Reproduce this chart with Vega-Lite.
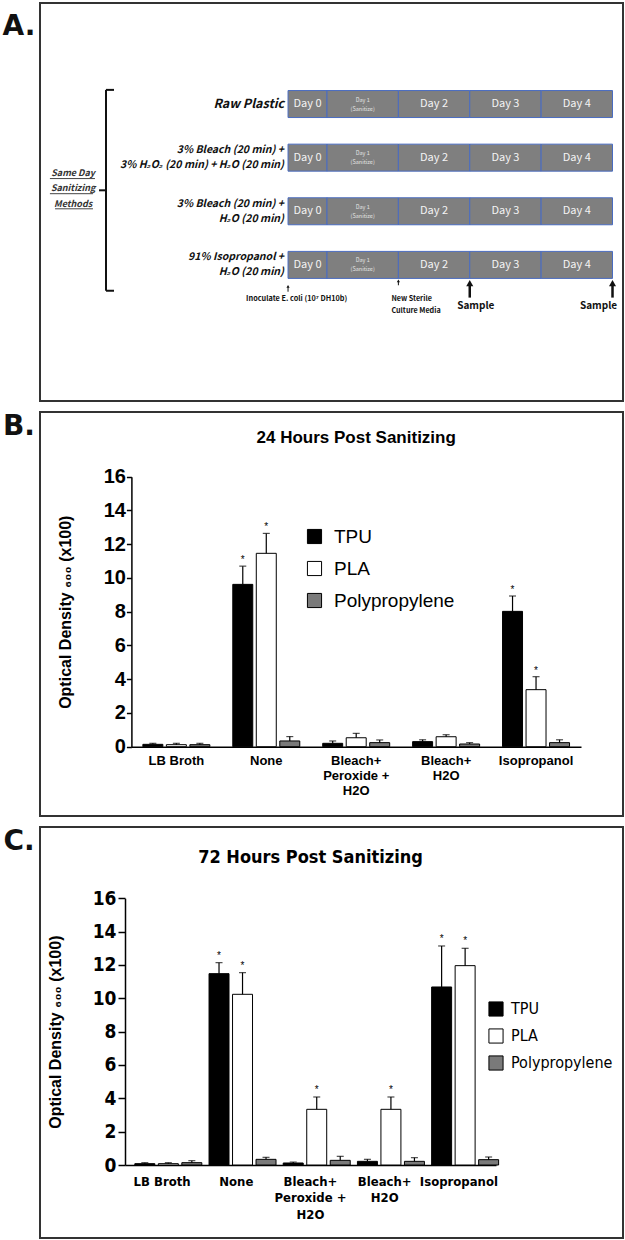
{
  "$schema": "https://vega.github.io/schema/vega-lite/v6.json",
  "padding": {"left": 2, "top": 2, "right": 0, "bottom": 0},
  "spacing": 9,
  "resolve": {"scale": {"fill": "independent"}, "legend": {"fill": "independent"}},
  "config": {
    "view": {"stroke": "#333333", "strokeWidth": 2},
    "font": "Liberation Sans",
    "text": {"color": "black"}
  },
  "datasets": {
    "cells": [
      {"row": 1, "day": 0, "label": "Day 0", "start": 0.454, "end": 1},
      {"row": 1, "day": 1, "label": "Day 1\n(Sanitize)", "start": 1, "end": 2},
      {"row": 1, "day": 2, "label": "Day 2", "start": 2, "end": 3},
      {"row": 1, "day": 3, "label": "Day 3", "start": 3, "end": 4},
      {"row": 1, "day": 4, "label": "Day 4", "start": 4, "end": 5},
      {"row": 2, "day": 0, "label": "Day 0", "start": 0.454, "end": 1},
      {"row": 2, "day": 1, "label": "Day 1\n(Sanitize)", "start": 1, "end": 2},
      {"row": 2, "day": 2, "label": "Day 2", "start": 2, "end": 3},
      {"row": 2, "day": 3, "label": "Day 3", "start": 3, "end": 4},
      {"row": 2, "day": 4, "label": "Day 4", "start": 4, "end": 5},
      {"row": 3, "day": 0, "label": "Day 0", "start": 0.454, "end": 1},
      {"row": 3, "day": 1, "label": "Day 1\n(Sanitize)", "start": 1, "end": 2},
      {"row": 3, "day": 2, "label": "Day 2", "start": 2, "end": 3},
      {"row": 3, "day": 3, "label": "Day 3", "start": 3, "end": 4},
      {"row": 3, "day": 4, "label": "Day 4", "start": 4, "end": 5},
      {"row": 4, "day": 0, "label": "Day 0", "start": 0.454, "end": 1},
      {"row": 4, "day": 1, "label": "Day 1\n(Sanitize)", "start": 1, "end": 2},
      {"row": 4, "day": 2, "label": "Day 2", "start": 2, "end": 3},
      {"row": 4, "day": 3, "label": "Day 3", "start": 3, "end": 4},
      {"row": 4, "day": 4, "label": "Day 4", "start": 4, "end": 5}
    ],
    "rows": [
      {"row": 1, "label": "Raw Plastic"},
      {"row": 2, "label": "3% Bleach (20 min) +\n3% H₂O₂ (20 min) + H₂O (20 min)"},
      {"row": 3, "label": "3% Bleach (20 min) +\nH₂O (20 min)"},
      {"row": 4, "label": "91% Isopropanol +\nH₂O (20 min)"}
    ],
    "events": [
      {"event": "inoculate", "day": 0.454, "label": "Inoculate E. coli (10⁷ DH10b)"},
      {"event": "media", "day": 2, "label": "New Sterile\nCulture Media"},
      {"event": "sample", "day": 3, "label": "Sample"},
      {"event": "sample", "day": 5, "label": "Sample"}
    ],
    "b": [
      {"cat": "LB Broth", "mat": "TPU", "value": 0.14, "upper": 0.2, "sig": false},
      {"cat": "LB Broth", "mat": "PLA", "value": 0.12, "upper": 0.2, "sig": false},
      {"cat": "LB Broth", "mat": "Polypropylene", "value": 0.12, "upper": 0.2, "sig": false},
      {"cat": "None", "mat": "TPU", "value": 9.62, "upper": 10.7, "sig": true},
      {"cat": "None", "mat": "PLA", "value": 11.46, "upper": 12.64, "sig": true},
      {"cat": "None", "mat": "Polypropylene", "value": 0.34, "upper": 0.6, "sig": false},
      {"cat": "Bleach+\nPeroxide +\nH2O", "mat": "TPU", "value": 0.2, "upper": 0.34, "sig": false},
      {"cat": "Bleach+\nPeroxide +\nH2O", "mat": "PLA", "value": 0.53, "upper": 0.79, "sig": false},
      {"cat": "Bleach+\nPeroxide +\nH2O", "mat": "Polypropylene", "value": 0.24, "upper": 0.4, "sig": false},
      {"cat": "Bleach+\nH2O", "mat": "TPU", "value": 0.3, "upper": 0.41, "sig": false},
      {"cat": "Bleach+\nH2O", "mat": "PLA", "value": 0.59, "upper": 0.71, "sig": false},
      {"cat": "Bleach+\nH2O", "mat": "Polypropylene", "value": 0.16, "upper": 0.24, "sig": false},
      {"cat": "Isopropanol", "mat": "TPU", "value": 8.02, "upper": 8.93, "sig": true},
      {"cat": "Isopropanol", "mat": "PLA", "value": 3.38, "upper": 4.15, "sig": true},
      {"cat": "Isopropanol", "mat": "Polypropylene", "value": 0.24, "upper": 0.41, "sig": false}
    ],
    "c": [
      {"cat": "LB Broth", "mat": "TPU", "value": 0.08, "upper": 0.14, "sig": false},
      {"cat": "LB Broth", "mat": "PLA", "value": 0.08, "upper": 0.14, "sig": false},
      {"cat": "LB Broth", "mat": "Polypropylene", "value": 0.14, "upper": 0.26, "sig": false},
      {"cat": "None", "mat": "TPU", "value": 11.48, "upper": 12.14, "sig": true},
      {"cat": "None", "mat": "PLA", "value": 10.24, "upper": 11.54, "sig": true},
      {"cat": "None", "mat": "Polypropylene", "value": 0.34, "upper": 0.46, "sig": false},
      {"cat": "Bleach+\nPeroxide +\nH2O", "mat": "TPU", "value": 0.12, "upper": 0.18, "sig": false},
      {"cat": "Bleach+\nPeroxide +\nH2O", "mat": "PLA", "value": 3.34, "upper": 4.08, "sig": true},
      {"cat": "Bleach+\nPeroxide +\nH2O", "mat": "Polypropylene", "value": 0.28, "upper": 0.52, "sig": false},
      {"cat": "Bleach+\nH2O", "mat": "TPU", "value": 0.22, "upper": 0.34, "sig": false},
      {"cat": "Bleach+\nH2O", "mat": "PLA", "value": 3.34, "upper": 4.08, "sig": true},
      {"cat": "Bleach+\nH2O", "mat": "Polypropylene", "value": 0.22, "upper": 0.44, "sig": false},
      {"cat": "Isopropanol", "mat": "TPU", "value": 10.68, "upper": 13.14, "sig": true},
      {"cat": "Isopropanol", "mat": "PLA", "value": 11.96, "upper": 13.0, "sig": true},
      {"cat": "Isopropanol", "mat": "Polypropylene", "value": 0.32, "upper": 0.48, "sig": false}
    ]
  },
  "vconcat": [
    {
      "spacing": 3,
      "hconcat": [
        {
          "width": 34, "height": 48,
          "view": {"stroke": null},
          "data": {"values": [{"t": "A."}]},
          "mark": {"type": "text", "font": "DejaVu Sans", "fontSize": 28, "fontWeight": "bold", "color": "#111111"},
          "encoding": {"text": {"field": "t"}}
        },
        {
          "width": 583,
          "height": 398,
          "layer": [
            {
              "data": {"name": "cells"},
              "mark": {"type": "bar", "size": 27, "fill": "#7f7f7f", "stroke": "#4a6cc0", "strokeWidth": 1},
              "encoding": {
                "x": {"field": "start", "type": "quantitative", "scale": {"domain": [-3.021, 5.147], "nice": false, "zero": false}, "axis": null},
                "x2": {"field": "end"},
                "y": {"field": "row", "type": "quantitative", "scale": {"domain": [-0.791, 6.445], "reverse": true, "nice": false, "zero": false}, "axis": null}
              }
            },
            {
              "data": {"name": "cells"},
              "transform": [{"filter": "datum.day != 1"}, {"fold": ["start", "end"], "as": ["edge", "pos"]}],
              "mark": {"type": "text", "font": "'Noto Sans CJK JP', 'Liberation Sans', sans-serif", "fontSize": 11, "color": "#f4f4f4"},
              "encoding": {
                "x": {"aggregate": "mean", "field": "pos", "type": "quantitative", "axis": null},
                "y": {"field": "row", "type": "quantitative", "axis": null},
                "text": {"field": "label"}
              }
            },
            {
              "data": {"name": "cells"},
              "transform": [{"filter": "datum.day == 1"}, {"fold": ["start", "end"], "as": ["edge", "pos"]}],
              "mark": {"type": "text", "font": "'Noto Sans CJK JP', 'Liberation Sans', sans-serif", "fontSize": 5.5, "lineBreak": "\n", "lineHeight": 9, "dy": -4.5, "color": "#e2e2e2"},
              "encoding": {
                "x": {"aggregate": "mean", "field": "pos", "type": "quantitative", "axis": null},
                "y": {"field": "row", "type": "quantitative", "axis": null},
                "text": {"field": "label"}
              }
            },
            {
              "data": {"name": "rows"},
              "transform": [{"filter": "datum.row == 1"}],
              "mark": {"type": "text", "align": "right", "baseline": "middle", "font": "'Noto Sans CJK JP', 'Liberation Sans', sans-serif", "fontStyle": "italic", "fontWeight": "bold", "fontSize": 12.5, "color": "#111111"},
              "encoding": {
                "x": {"datum": 0.398, "type": "quantitative", "axis": null},
                "y": {"field": "row", "type": "quantitative", "axis": null},
                "text": {"field": "label"}
              }
            },
            {
              "data": {"name": "rows"},
              "transform": [{"filter": "datum.row > 1"}],
              "mark": {"type": "text", "align": "right", "baseline": "middle", "font": "'Noto Sans CJK JP', 'Liberation Sans', sans-serif", "fontStyle": "italic", "fontWeight": "bold", "fontSize": 10.5, "lineBreak": "\n", "lineHeight": 15, "dy": -7.5, "color": "#111111"},
              "encoding": {
                "x": {"datum": 0.398, "type": "quantitative", "axis": null},
                "y": {"field": "row", "type": "quantitative", "axis": null},
                "text": {"field": "label"}
              }
            },
            {
              "data": {"values": [{}]},
              "mark": {"type": "rule", "color": "#111111", "strokeWidth": 2},
              "encoding": {
                "x": {"datum": -2.096, "type": "quantitative", "axis": null},
                "y": {"datum": 0.736, "type": "quantitative", "axis": null},
                "y2": {"datum": 4.482}
              }
            },
            {
              "data": {"values": [{}]},
              "mark": {"type": "rule", "color": "#111111", "strokeWidth": 2},
              "encoding": {
                "x": {"datum": -2.096, "type": "quantitative", "axis": null},
                "x2": {"datum": -1.984},
                "y": {"datum": 0.736, "type": "quantitative", "axis": null}
              }
            },
            {
              "data": {"values": [{}]},
              "mark": {"type": "rule", "color": "#111111", "strokeWidth": 2},
              "encoding": {
                "x": {"datum": -2.096, "type": "quantitative", "axis": null},
                "x2": {"datum": -1.984},
                "y": {"datum": 4.482, "type": "quantitative", "axis": null}
              }
            },
            {
              "data": {"values": [{}]},
              "mark": {"type": "rule", "color": "#111111", "strokeWidth": 2},
              "encoding": {
                "x": {"datum": -2.194, "type": "quantitative", "axis": null},
                "x2": {"datum": -2.096},
                "y": {"datum": 2.609, "type": "quantitative", "axis": null}
              }
            },
            {
              "data": {"values": [{"t": "Same Day\nSanitizing\nMethods"}]},
              "mark": {"type": "text", "align": "center", "font": "'Noto Sans CJK JP', 'Liberation Sans', sans-serif", "fontStyle": "italic", "fontWeight": "bold", "fontSize": 9, "lineBreak": "\n", "lineHeight": 15.5, "color": "#333333"},
              "encoding": {
                "x": {"datum": -2.557, "type": "quantitative", "axis": null},
                "y": {"datum": 2.282, "type": "quantitative", "axis": null},
                "text": {"field": "t"}
              }
            },
            {
              "data": {"values": [{}]},
              "mark": {"type": "rule", "color": "#444444", "strokeWidth": 1},
              "encoding": {
                "x": {"datum": -2.882, "type": "quantitative", "axis": null},
                "x2": {"datum": -2.251},
                "y": {"datum": 2.39, "type": "quantitative", "axis": null}
              }
            },
            {
              "data": {"values": [{}]},
              "mark": {"type": "rule", "color": "#444444", "strokeWidth": 1},
              "encoding": {
                "x": {"datum": -2.882, "type": "quantitative", "axis": null},
                "x2": {"datum": -2.279},
                "y": {"datum": 2.672, "type": "quantitative", "axis": null}
              }
            },
            {
              "data": {"values": [{}]},
              "mark": {"type": "rule", "color": "#444444", "strokeWidth": 1},
              "encoding": {
                "x": {"datum": -2.81, "type": "quantitative", "axis": null},
                "x2": {"datum": -2.279},
                "y": {"datum": 2.954, "type": "quantitative", "axis": null}
              }
            },
            {
              "data": {"name": "events"},
              "transform": [{"filter": "datum.event == 'sample'"}],
              "mark": {"type": "rule", "color": "#111111", "strokeWidth": 2.5},
              "encoding": {
                "x": {"field": "day", "type": "quantitative", "axis": null},
                "y": {"datum": 4.36, "type": "quantitative", "axis": null},
                "y2": {"datum": 4.61}
              }
            },
            {
              "data": {"name": "events"},
              "transform": [{"filter": "datum.event == 'sample'"}],
              "mark": {"type": "point", "shape": "triangle-up", "filled": true, "color": "#111111", "size": 50, "opacity": 1},
              "encoding": {
                "x": {"field": "day", "type": "quantitative", "axis": null},
                "y": {"datum": 4.34, "type": "quantitative", "axis": null}
              }
            },
            {
              "data": {"name": "events"},
              "transform": [{"filter": "datum.event == 'inoculate'"}],
              "mark": {"type": "rule", "color": "#111111", "strokeWidth": 1},
              "encoding": {
                "x": {"field": "day", "type": "quantitative", "axis": null},
                "y": {"datum": 4.41, "type": "quantitative", "axis": null},
                "y2": {"datum": 4.5}
              }
            },
            {
              "data": {"name": "events"},
              "transform": [{"filter": "datum.event == 'inoculate'"}],
              "mark": {"type": "point", "shape": "triangle-up", "filled": true, "color": "#111111", "size": 10, "opacity": 1},
              "encoding": {
                "x": {"field": "day", "type": "quantitative", "axis": null},
                "y": {"datum": 4.40, "type": "quantitative", "axis": null}
              }
            },
            {
              "data": {"name": "events"},
              "transform": [{"filter": "datum.event == 'media'"}],
              "mark": {"type": "rule", "color": "#111111", "strokeWidth": 1},
              "encoding": {
                "x": {"field": "day", "type": "quantitative", "axis": null},
                "y": {"datum": 4.31, "type": "quantitative", "axis": null},
                "y2": {"datum": 4.38}
              }
            },
            {
              "data": {"name": "events"},
              "transform": [{"filter": "datum.event == 'media'"}],
              "mark": {"type": "point", "shape": "triangle-up", "filled": true, "color": "#111111", "size": 10, "opacity": 1},
              "encoding": {
                "x": {"field": "day", "type": "quantitative", "axis": null},
                "y": {"datum": 4.30, "type": "quantitative", "axis": null}
              }
            },
            {
              "data": {"name": "events"},
              "transform": [{"filter": "datum.event == 'inoculate'"}],
              "mark": {"type": "text", "dx": 8.6, "font": "'Noto Sans CJK JP', 'Liberation Sans', sans-serif", "fontWeight": "bold", "fontSize": 7.3, "color": "#111111"},
              "encoding": {
                "x": {"field": "day", "type": "quantitative", "axis": null},
                "y": {"datum": 4.645, "type": "quantitative", "axis": null},
                "text": {"field": "label"}
              }
            },
            {
              "data": {"name": "events"},
              "transform": [{"filter": "datum.event == 'media'"}],
              "mark": {"type": "text", "align": "left", "dx": -7, "font": "'Noto Sans CJK JP', 'Liberation Sans', sans-serif", "fontWeight": "bold", "fontSize": 7.2, "lineBreak": "\n", "lineHeight": 12, "color": "#111111"},
              "encoding": {
                "x": {"field": "day", "type": "quantitative", "axis": null},
                "y": {"datum": 4.63, "type": "quantitative", "axis": null},
                "text": {"field": "label"}
              }
            },
            {
              "data": {"name": "events"},
              "transform": [{"filter": "datum.event == 'sample' && datum.day == 3"}],
              "mark": {"type": "text", "dx": 6, "font": "'Noto Sans CJK JP', 'Liberation Sans', sans-serif", "fontWeight": "bold", "fontSize": 10, "color": "#111111"},
              "encoding": {
                "x": {"field": "day", "type": "quantitative", "axis": null},
                "y": {"datum": 4.76, "type": "quantitative", "axis": null},
                "text": {"field": "label"}
              }
            },
            {
              "data": {"name": "events"},
              "transform": [{"filter": "datum.event == 'sample' && datum.day == 5"}],
              "mark": {"type": "text", "dx": -14, "font": "'Noto Sans CJK JP', 'Liberation Sans', sans-serif", "fontWeight": "bold", "fontSize": 10, "color": "#111111"},
              "encoding": {
                "x": {"field": "day", "type": "quantitative", "axis": null},
                "y": {"datum": 4.76, "type": "quantitative", "axis": null},
                "text": {"field": "label"}
              }
            }
          ]
        }
      ]
    },
    {
      "spacing": 3,
      "resolve": {"scale": {"fill": "independent"}, "legend": {"fill": "independent"}},
      "hconcat": [
        {
          "width": 34, "height": 30,
          "view": {"stroke": null},
          "data": {"values": [{"t": "B."}]},
          "mark": {"type": "text", "font": "DejaVu Sans", "fontSize": 28, "fontWeight": "bold", "color": "#111111"},
          "encoding": {"text": {"field": "t"}}
        },
        {
          "width": 583,
          "height": 404,
          "data": {"name": "b"},
          "encoding": {
            "x": {
              "field": "cat", "type": "nominal", "title": null,
              "scale": {"domain": ["LB Broth", "None", "Bleach+\nPeroxide +\nH2O", "Bleach+\nH2O", "Isopropanol"], "range": [91.4, 541], "paddingInner": 0.255, "paddingOuter": 0.1275},
              "axis": {"offset": -69.3, "domainColor": "black", "domainWidth": 1.5, "ticks": false, "labelAngle": 0, "labelFontSize": 13, "labelFontWeight": "bold", "labelColor": "black", "labelPadding": 8, "labelLineHeight": 15, "labelOverlap": false, "labelExpr": "split(datum.label, '\\n')"}
            }
          },
          "layer": [
            {
              "mark": {"type": "bar", "stroke": "black", "strokeWidth": 1},
              "encoding": {
                "xOffset": {"field": "mat", "type": "nominal", "scale": {"domain": ["TPU", "PLA", "Polypropylene"], "paddingInner": 0.15, "paddingOuter": 0}},
                "y": {
                  "field": "value", "type": "quantitative", "title": "Optical Density ₆₀₀ (x100)",
                  "scale": {"domain": [0, 16], "range": [334.7, 64.7], "nice": false},
                  "axis": {"values": [0, 2, 4, 6, 8, 10, 12, 14, 16], "offset": -91.4, "grid": false, "domainColor": "black", "domainWidth": 1.5, "tickColor": "black", "tickWidth": 1.5, "tickSize": 5, "labelFontSize": 20, "labelFontWeight": "bold", "labelColor": "black", "labelPadding": 1, "titleFontSize": 16, "titleFontWeight": "bold", "titleColor": "black", "titlePadding": 30}
                },
                "fill": {
                  "field": "mat", "type": "nominal",
                  "scale": {"domain": ["TPU", "PLA", "Polypropylene"], "range": ["#000000", "#ffffff", "#7a7a7a"]},
                  "legend": {"orient": "none", "legendX": 265, "legendY": 115, "title": null, "symbolType": "square", "symbolSize": 200, "symbolStrokeColor": "black", "symbolStrokeWidth": 1, "labelFontSize": 19, "labelColor": "black", "labelOffset": 10, "rowPadding": 12, "padding": 0}
                }
              }
            },
            {
              "mark": {"type": "rule", "color": "black", "strokeWidth": 1.2},
              "encoding": {
                "xOffset": {"field": "mat", "type": "nominal", "scale": {"domain": ["TPU", "PLA", "Polypropylene"], "paddingInner": 0.15, "paddingOuter": 0}},
                "y": {"field": "value", "type": "quantitative", "title": "Optical Density ₆₀₀ (x100)"},
                "y2": {"field": "upper"}
              }
            },
            {
              "mark": {"type": "tick", "color": "black", "size": 7, "thickness": 1.2},
              "encoding": {
                "xOffset": {"field": "mat", "type": "nominal", "scale": {"domain": ["TPU", "PLA", "Polypropylene"], "paddingInner": 0.15, "paddingOuter": 0}},
                "y": {"field": "upper", "type": "quantitative", "title": "Optical Density ₆₀₀ (x100)"}
              }
            },
            {
              "transform": [{"filter": "datum.sig"}],
              "mark": {"type": "text", "text": "*", "fontSize": 10, "dy": -3, "baseline": "alphabetic", "fill": "#000000"},
              "encoding": {
                "xOffset": {"field": "mat", "type": "nominal", "scale": {"domain": ["TPU", "PLA", "Polypropylene"], "paddingInner": 0.15, "paddingOuter": 0}},
                "y": {"field": "upper", "type": "quantitative", "title": "Optical Density ₆₀₀ (x100)"}
              }
            },
            {
              "data": {"values": [{}]},
              "mark": {"type": "text", "text": "24 Hours Post Sanitizing", "fontSize": 17, "fontWeight": "bold"},
              "encoding": {
                "x": {"datum": "Bleach+\nPeroxide +\nH2O", "type": "nominal"},
                "y": {"datum": 18.29, "type": "quantitative", "title": "Optical Density ₆₀₀ (x100)"}
              }
            }
          ]
        }
      ]
    },
    {
      "spacing": 3,
      "resolve": {"scale": {"fill": "independent"}, "legend": {"fill": "independent"}},
      "hconcat": [
        {
          "width": 34, "height": 30,
          "view": {"stroke": null},
          "data": {"values": [{"t": "C."}]},
          "mark": {"type": "text", "font": "DejaVu Sans", "fontSize": 28, "fontWeight": "bold", "color": "#111111"},
          "encoding": {"text": {"field": "t"}}
        },
        {
          "width": 583,
          "height": 411,
          "data": {"name": "c"},
          "encoding": {
            "x": {
              "field": "cat", "type": "nominal", "title": null,
              "scale": {"domain": ["LB Broth", "None", "Bleach+\nPeroxide +\nH2O", "Bleach+\nH2O", "Isopropanol"], "range": [85, 456], "paddingInner": 0.265, "paddingOuter": 0.1325},
              "axis": {"offset": -73, "domainColor": "black", "domainWidth": 1.5, "ticks": false, "labelAngle": 0, "labelFont": "'DejaVu Sans Condensed', 'Liberation Sans', sans-serif", "labelFontSize": 13, "labelFontWeight": "bold", "labelColor": "black", "labelPadding": 10, "labelLineHeight": 16.7, "labelOverlap": false, "labelExpr": "split(datum.label, '\\n')"}
            }
          },
          "layer": [
            {
              "mark": {"type": "bar", "stroke": "black", "strokeWidth": 1},
              "encoding": {
                "xOffset": {"field": "mat", "type": "nominal", "scale": {"domain": ["TPU", "PLA", "Polypropylene"], "paddingInner": 0.1, "paddingOuter": 0}},
                "y": {
                  "field": "value", "type": "quantitative", "title": "Optical Density ₆₀₀ (x100)",
                  "scale": {"domain": [0, 16], "range": [338, 71.3], "nice": false},
                  "axis": {"values": [0, 2, 4, 6, 8, 10, 12, 14, 16], "offset": -85, "grid": false, "domainColor": "black", "domainWidth": 1.5, "tickColor": "black", "tickWidth": 1.5, "tickSize": 7, "labelFont": "'DejaVu Sans Condensed', 'Liberation Sans', sans-serif", "labelFontSize": 19, "labelFontWeight": "bold", "labelColor": "black", "labelPadding": 2, "titleFontSize": 16, "titleFontWeight": "bold", "titleColor": "black", "titlePadding": 29}
                },
                "fill": {
                  "field": "mat", "type": "nominal",
                  "scale": {"domain": ["TPU", "PLA", "Polypropylene"], "range": ["#000000", "#ffffff", "#7a7a7a"]},
                  "legend": {"orient": "none", "legendX": 448, "legendY": 174, "title": null, "symbolType": "square", "symbolSize": 200, "symbolStrokeColor": "black", "symbolStrokeWidth": 1, "labelFont": "'DejaVu Sans Condensed', 'Liberation Sans', sans-serif", "labelFontSize": 16, "labelColor": "black", "labelOffset": 7, "rowPadding": 7, "padding": 0}
                }
              }
            },
            {
              "mark": {"type": "rule", "color": "black", "strokeWidth": 1.2},
              "encoding": {
                "xOffset": {"field": "mat", "type": "nominal", "scale": {"domain": ["TPU", "PLA", "Polypropylene"], "paddingInner": 0.1, "paddingOuter": 0}},
                "y": {"field": "value", "type": "quantitative", "title": "Optical Density ₆₀₀ (x100)"},
                "y2": {"field": "upper"}
              }
            },
            {
              "mark": {"type": "tick", "color": "black", "size": 7, "thickness": 1.2},
              "encoding": {
                "xOffset": {"field": "mat", "type": "nominal", "scale": {"domain": ["TPU", "PLA", "Polypropylene"], "paddingInner": 0.1, "paddingOuter": 0}},
                "y": {"field": "upper", "type": "quantitative", "title": "Optical Density ₆₀₀ (x100)"}
              }
            },
            {
              "transform": [{"filter": "datum.sig"}],
              "mark": {"type": "text", "text": "*", "fontSize": 10, "dy": -4, "baseline": "alphabetic", "fill": "#000000"},
              "encoding": {
                "xOffset": {"field": "mat", "type": "nominal", "scale": {"domain": ["TPU", "PLA", "Polypropylene"], "paddingInner": 0.1, "paddingOuter": 0}},
                "y": {"field": "upper", "type": "quantitative", "title": "Optical Density ₆₀₀ (x100)"}
              }
            },
            {
              "data": {"values": [{}]},
              "mark": {"type": "text", "text": "72 Hours Post Sanitizing", "font": "'DejaVu Sans Condensed', 'Liberation Sans', sans-serif", "fontSize": 18, "fontWeight": "bold"},
              "encoding": {
                "x": {"datum": "Bleach+\nPeroxide +\nH2O", "type": "nominal"},
                "y": {"datum": 18.42, "type": "quantitative", "title": "Optical Density ₆₀₀ (x100)"}
              }
            }
          ]
        }
      ]
    }
  ]
}
